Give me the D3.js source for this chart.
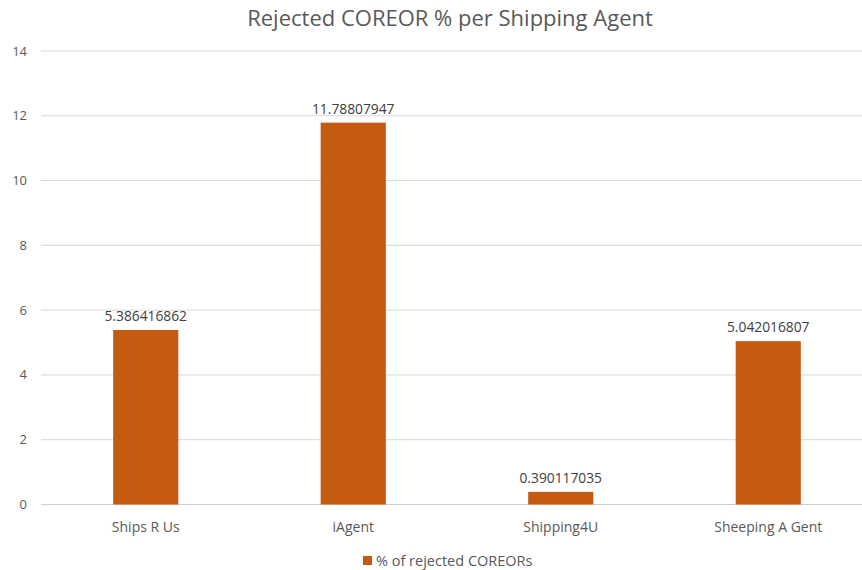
<!DOCTYPE html>
<html>
<head>
<meta charset="utf-8">
<script src="https://cdn.jsdelivr.net/npm/d3@7"></script>
<style>
  body { margin: 0; background: #fff; }
  text { font-family: "Open Sans", "Noto Sans", sans-serif; }
</style>
</head>
<body>
<div id="chart"></div>
<script>
const agents = ['Ships R Us', 'iAgent', 'Shipping4U', 'Sheeping A Gent'];
const rejectedPct = [5.386416862, 11.78807947, 0.390117035, 5.042016807];
const valueLabels = ['5.386416862', '11.78807947', '0.390117035', '5.042016807'];
const yTicks = [0, 2, 4, 6, 8, 10, 12, 14];
const seriesName = '% of rejected COREORs';
const chartTitle = 'Rejected COREOR % per Shipping Agent';

const W = 862, H = 570;
const barColor = '#c55a11';
const textColor = '#595959';

const svg = d3.select('#chart')
  .append('svg')
  .attr('width', W)
  .attr('height', H);

const x = d3.scaleBand()
  .domain(agents)
  .range([42, 872])
  .paddingInner(0.686)
  .paddingOuter(0.343);

const y = d3.scaleLinear()
  .domain([0, 14])
  .range([504.5, 51]);

// gridlines
svg.append('g')
  .selectAll('line')
  .data(yTicks)
  .enter()
  .append('line')
  .attr('x1', 41)
  .attr('x2', W)
  .attr('y1', (d) => y(d))
  .attr('y2', (d) => y(d))
  .attr('stroke', (d) => (d === 0 ? '#d0d0d0' : '#d9d9d9'))
  .attr('stroke-width', 1);

// y axis labels
svg.append('g')
  .selectAll('text')
  .data(yTicks)
  .enter()
  .append('text')
  .attr('x', 27)
  .attr('y', (d) => y(d))
  .attr('dy', '0.35em')
  .attr('text-anchor', 'end')
  .attr('fill', textColor)
  .style('font-size', '13px')
  .text((d) => d);

// bars
svg.append('g')
  .selectAll('rect')
  .data(agents)
  .enter()
  .append('rect')
  .attr('x', (d) => x(d))
  .attr('y', (d, i) => y(rejectedPct[i]))
  .attr('width', x.bandwidth())
  .attr('height', (d, i) => y(0) - y(rejectedPct[i]))
  .style('fill', barColor);

// value labels
svg.append('g')
  .selectAll('text')
  .data(agents)
  .enter()
  .append('text')
  .attr('x', (d) => x(d) + x.bandwidth() / 2)
  .attr('y', (d, i) => y(rejectedPct[i]) - 9)
  .attr('text-anchor', 'middle')
  .attr('fill', '#404040')
  .style('font-size', '13.8px')
  .text((d, i) => valueLabels[i]);

// category labels
svg.append('g')
  .selectAll('text')
  .data(agents)
  .enter()
  .append('text')
  .attr('x', (d) => x(d) + x.bandwidth() / 2)
  .attr('y', 532)
  .attr('text-anchor', 'middle')
  .attr('fill', textColor)
  .style('font-size', '14px')
  .text((d) => d);

// title
svg.append('text')
  .attr('x', 450)
  .attr('y', 26)
  .attr('text-anchor', 'middle')
  .attr('fill', textColor)
  .style('font-size', '22px')
  .text(chartTitle);

// legend
const legend = svg.append('g').attr('transform', 'translate(363, 556)');
legend.append('rect')
  .attr('width', 9)
  .attr('height', 9)
  .style('fill', barColor);
legend.append('text')
  .attr('x', 13)
  .attr('y', 4.5)
  .attr('dy', '0.35em')
  .attr('fill', textColor)
  .style('font-size', '14.5px')
  .text(seriesName);
</script>
</body>
</html>
